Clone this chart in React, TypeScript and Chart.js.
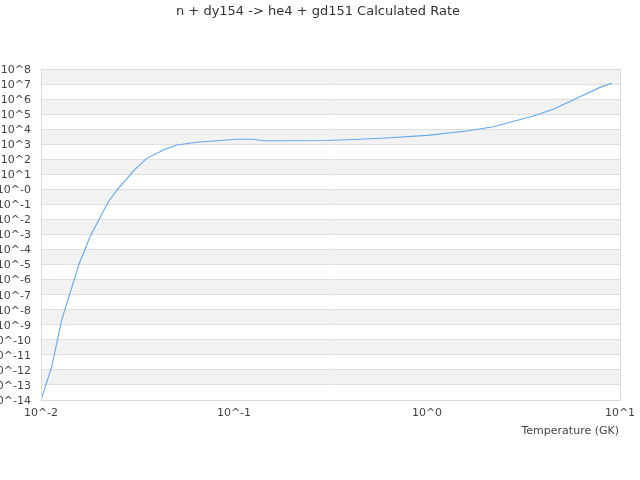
import React, { useEffect, useRef } from "react";
import { Chart, registerables } from "chart.js";

Chart.register(...registerables);

const TITLE = "n + dy154 -> he4 + gd151 Calculated Rate";
const X_TITLE = "Temperature (GK)";

const temperatures = [
  0.01, 0.01136, 0.0128, 0.0158, 0.01795, 0.02233, 0.02515, 0.0289, 0.0307,
  0.0353, 0.043, 0.0505, 0.0641, 0.0813, 0.1033, 0.1254, 0.1413, 0.302, 0.45,
  0.643, 1.0, 1.606, 2.206, 3.554, 4.512, 5.966, 7.88, 9.06,
];
const rates = [
  1e-14, 1.6e-12, 2.1e-9, 1.23e-5, 7.1e-4, 0.15, 1.17, 8.9, 21, 115, 417, 890,
  1350, 1700, 2140, 2140, 1700, 1780, 2140, 2690, 3890, 7590, 14600, 75200,
  209000, 1.12e6, 6.0e6, 1.12e7,
];

const yTickValues = [
  1e8, 1e7, 1e6, 1e5, 1e4, 1e3, 1e2, 1e1, 1e0, 1e-1, 1e-2, 1e-3, 1e-4, 1e-5,
  1e-6, 1e-7, 1e-8, 1e-9, 1e-10, 1e-11, 1e-12, 1e-13, 1e-14,
];
const yTickLabels = [
  "10^8", "10^7", "10^6", "10^5", "10^4", "10^3", "10^2", "10^1", "10^-0",
  "10^-1", "10^-2", "10^-3", "10^-4", "10^-5", "10^-6", "10^-7", "10^-8",
  "10^-9", "10^-10", "10^-11", "10^-12", "10^-13", "10^-14",
];
const xTickValues = [0.01, 0.1, 1, 10];
const xTickLabels = ["10^-2", "10^-1", "10^0", "10^1"];

const FONT = "'DejaVu Sans', sans-serif";

const bandsPlugin = {
  id: "bands",
  beforeDraw(chart: any) {
    const { ctx, chartArea } = chart;
    const y = chart.scales.y;
    ctx.save();
    ctx.fillStyle = "#f2f2f2";
    for (let i = 0; i < yTickValues.length - 1; i += 2) {
      const top = y.getPixelForValue(yTickValues[i]);
      const bot = y.getPixelForValue(yTickValues[i + 1]);
      ctx.fillRect(chartArea.left, top, chartArea.right - chartArea.left, bot - top);
    }
    ctx.restore();
  },
  afterDraw(chart: any) {
    const { ctx, chartArea } = chart;
    ctx.save();
    ctx.strokeStyle = "#d9d9d9";
    ctx.lineWidth = 1;
    ctx.strokeRect(
      Math.round(chartArea.left) + 0.5,
      Math.round(chartArea.top) + 0.5,
      Math.round(chartArea.right - chartArea.left),
      Math.round(chartArea.bottom - chartArea.top)
    );
    ctx.fillStyle = "#333";
    ctx.font = "13px " + FONT;
    ctx.textAlign = "center";
    ctx.textBaseline = "middle";
    ctx.fillText(TITLE, 318, 12);
    ctx.fillStyle = "#444";
    ctx.font = "11px " + FONT;
    ctx.textAlign = "right";
    ctx.fillText(X_TITLE, chartArea.right - 1, 431);
    ctx.restore();
  },
};

export default function App() {
  const ref = useRef<HTMLCanvasElement>(null);
  useEffect(() => {
    const chart = new Chart(ref.current!, {
      type: "line",
      data: {
        datasets: [
          {
            data: temperatures.map((t, i) => ({ x: t, y: rates[i] })),
            borderColor: "#62a8f0",
            borderWidth: 1.1,
            pointRadius: 0,
            fill: false,
            tension: 0,
          },
        ],
      },
      options: {
        animation: false,
        responsive: false,
        maintainAspectRatio: false,
        layout: { padding: { top: 69, right: 20, left: 0, bottom: 0 } },
        plugins: { legend: { display: false }, title: { display: false }, tooltip: { enabled: false } },
        scales: {
          x: {
            type: "logarithmic",
            min: 0.01,
            max: 10,
            afterBuildTicks: (s: any) => {
              s.ticks = xTickValues.map((v) => ({ value: v }));
            },
            afterFit: (s: any) => {
              s.height = 80;
              s.paddingLeft = 0;
              s.paddingRight = 0;
            },
            ticks: {
              autoSkip: false,
              maxRotation: 0,
              padding: 7,
              color: "#444",
              font: { family: FONT, size: 11 },
              callback: (v: any) => {
                const i = xTickValues.findIndex((t) => Math.abs(t - v) / t < 1e-6);
                return i >= 0 ? xTickLabels[i] : "";
              },
            },
            grid: { display: false, drawTicks: false },
            border: { display: false },
          },
          y: {
            type: "logarithmic",
            min: 1e-14,
            max: 1e8,
            afterBuildTicks: (s: any) => {
              s.ticks = yTickValues.map((v) => ({ value: v }));
            },
            afterFit: (s: any) => {
              s.width = 41;
              s.paddingTop = 0;
              s.paddingBottom = 0;
            },
            ticks: {
              autoSkip: false,
              padding: 10,
              labelOffset: 1,
              color: "#444",
              font: { family: FONT, size: 11 },
              callback: (v: any) => {
                const i = yTickValues.findIndex((t) => Math.abs(t - v) / t < 1e-6);
                return i >= 0 ? yTickLabels[i] : "";
              },
            },
            grid: { color: "#dedede", drawTicks: false, lineWidth: 1 },
            border: { display: false },
          },
        },
      },
      plugins: [bandsPlugin],
    });
    return () => chart.destroy();
  }, []);
  return (
    <div style={{ position: "fixed", left: 0, top: 0, width: 640, height: 480, background: "#fff" }}>
      <canvas ref={ref} width={640} height={480} style={{ width: 640, height: 480 }} />
    </div>
  );
}
